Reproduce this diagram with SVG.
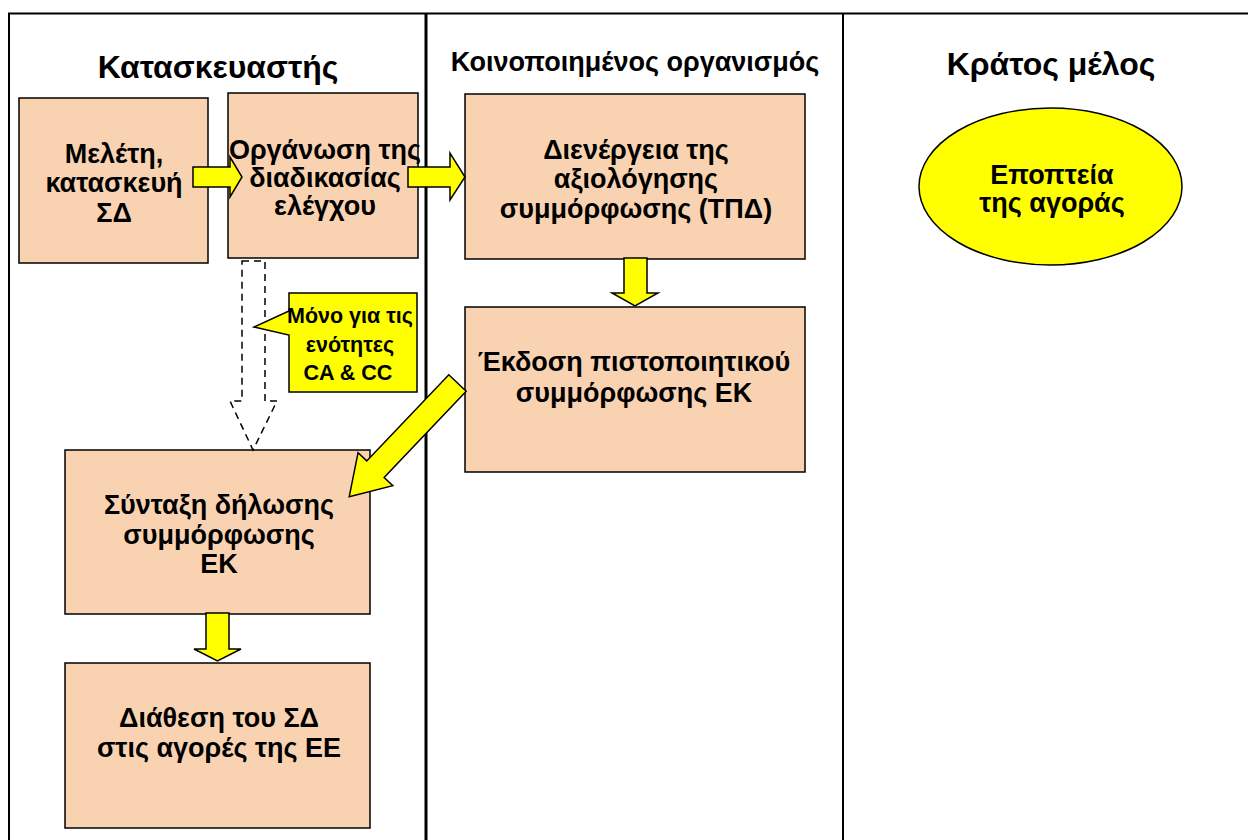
<svg xmlns="http://www.w3.org/2000/svg" width="1248" height="840" viewBox="0 0 1248 840">
<style>
.frame{fill:none;stroke:#000;}
.box{fill:#F9D3B1;stroke:#000;stroke-width:1.5;}
.yel{fill:#FFFF00;stroke:#000;stroke-width:1.5;stroke-linejoin:miter;}
.dash{fill:none;stroke:#000;stroke-width:1.5;stroke-dasharray:7,5;}
text{font-family:"Liberation Sans",Arial,sans-serif;font-weight:bold;fill:#000;text-anchor:middle;}
.t{font-size:32px;}
.b{font-size:27px;}
.c{font-size:21.5px;}
</style>
<rect width="1248" height="840" fill="#fff"/>
<g id="frame">
<path class="frame" d="M9,840 V13.5 H1248" stroke-width="2"/>
<line class="frame" x1="426" y1="13" x2="426" y2="840" stroke-width="3"/>
<line class="frame" x1="843" y1="13" x2="843" y2="840" stroke-width="2"/>
<text class="t" x="218" y="78">Κατασκευαστής</text>
<text x="635" y="71" style="font-size:27px">Κοινοποιημένος οργανισμός</text>
<text class="t" x="1051" y="75">Κράτος μέλος</text>
</g>
<g id="n1">
<rect class="box" x="19" y="98" width="189" height="165"/>
<text class="b" x="114" y="163">Μελέτη,</text>
<text class="b" x="114" y="192">κατασκευή</text>
<text class="b" x="114" y="222">ΣΔ</text>
</g>
<g id="n2">
<rect class="box" x="228" y="93" width="190" height="165"/>
<text class="b" x="325" y="159">Οργάνωση της</text>
<text class="b" x="325" y="187">διαδικασίας</text>
<text class="b" x="325" y="215">ελέγχου</text>
</g>
<g id="n3">
<rect class="box" x="465" y="94" width="340" height="165"/>
<text class="b" x="636" y="159">Διενέργεια της</text>
<text class="b" x="636" y="188">αξιολόγησης</text>
<text class="b" x="636" y="218">συμμόρφωσης (ΤΠΔ)</text>
</g>
<g id="n4">
<rect class="box" x="465" y="307" width="340" height="165"/>
<text class="b" x="634" y="371">Έκδοση πιστοποιητικού</text>
<text class="b" x="634" y="402">συμμόρφωσης ΕΚ</text>
</g>
<g id="n5">
<rect class="box" x="65" y="450" width="305" height="164"/>
<text class="b" x="219" y="514">Σύνταξη δήλωσης</text>
<text class="b" x="219" y="544">συμμόρφωσης</text>
<text class="b" x="219" y="573">ΕΚ</text>
</g>
<g id="n6">
<rect class="box" x="65" y="663" width="305" height="165"/>
<text class="b" x="219" y="727">Διάθεση του ΣΔ</text>
<text class="b" x="219" y="757">στις αγορές της ΕΕ</text>
</g>
<g id="n7">
<ellipse cx="1050.5" cy="186.5" rx="131.5" ry="78.5" fill="#FFFF00" stroke="#000" stroke-width="1.5"/>
<text class="b" x="1052" y="184">Εποπτεία</text>
<text class="b" x="1052" y="212">της αγοράς</text>
</g>
<g id="connectors">
<polygon class="yel" points="193,167 230,167 230,157 242,177 230,197 230,187 193,187"/>
<polygon class="yel" points="408,167 450,167 450,153 465,177 450,200 450,187 408,187"/>
<polygon class="yel" points="624,258 647,258 647,293 658,293 635,306 612,293 624,293"/>
<polygon class="yel" points="206,613 229,613 229,649 241,649 217.5,661 194,649 206,649"/>
<polygon class="yel" points="0,-12 119,-12 119,-24 157,0 119,24 119,12 0,12" transform="translate(457.5,383) rotate(133.6)"/>
<polygon class="dash" points="242,261 265,261 265,401 277,401 253,450 230,401 242,401"/>
</g>
<g id="callout">
<polygon class="yel" points="289,293 417,293 417,392 289,392 289,335 254,327 289,311"/>
<text class="c" x="350" y="323">Μόνο για τις</text>
<text class="c" x="350" y="352">ενότητες</text>
<text class="c" x="348" y="380">CA &amp; CC</text>
</g>
</svg>
